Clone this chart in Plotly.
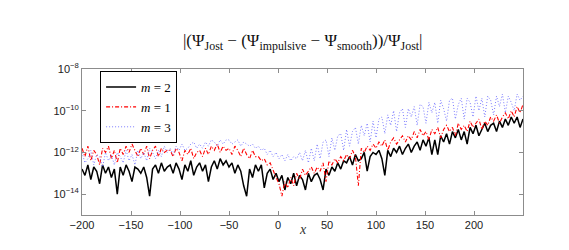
import plotly.graph_objects as go

# x grid (step 3) from -200 to 250
x_start, x_step, n_pts = -200, 3, 151
x_vals = [x_start + x_step * i for i in range(n_pts)]

# log10 of relative error
log_m2 = [
    -12.8, -13.1, -12.6, -13.3, -12.7, -12.9, -13.5, -12.6, -13.0, -12.7,
    -13.2, -12.8, -14.0, -12.7, -13.1, -12.6, -12.9, -13.4, -12.7, -12.8,
    -13.0, -12.7, -13.2, -14.1, -12.8, -12.6, -13.0, -12.5, -12.9, -12.7,
    -12.6, -13.0, -12.5, -12.8, -13.3, -12.6, -12.9, -12.4, -13.1, -12.7,
    -12.5, -12.9, -12.6, -13.4, -12.7, -12.4, -12.8, -12.3, -12.6, -12.4,
    -12.7, -12.5, -13.0, -12.6, -12.9, -13.6, -14.1, -12.8, -13.2, -12.6,
    -12.9, -12.6, -13.7, -13.0, -12.8, -13.3, -13.0, -13.4, -13.1, -13.8,
    -13.2, -13.5, -13.0, -13.6, -13.1, -13.3, -13.8, -13.0, -13.4, -13.1,
    -13.0, -13.3, -13.8, -12.8, -13.1, -12.7, -12.9, -12.5, -12.8, -12.4,
    -12.5, -12.2, -12.6, -12.1, -12.4, -12.3, -12.0, -12.9, -12.2, -12.0,
    -12.1, -11.9, -12.3, -13.1, -11.9, -12.2, -11.8, -12.0, -11.7, -12.1,
    -11.8, -11.6, -12.0, -11.7, -11.5, -11.9, -11.4, -11.7, -11.3, -12.1,
    -11.4, -12.1, -11.2, -11.5, -11.1, -11.6, -11.0, -11.3, -10.9, -11.4,
    -11.0, -11.6, -10.8, -11.1, -10.7, -11.2, -10.9, -10.6, -11.0, -10.7,
    -10.6, -11.0, -10.5, -10.8, -10.4, -10.7, -10.3, -10.6, -10.3, -10.8,
    -10.4,
]

log_m1 = [
    -11.8, -12.2, -11.7, -12.4, -11.9, -12.1, -12.6, -11.8, -12.0, -11.7,
    -12.3, -11.9, -12.5, -11.8, -12.1, -11.7, -12.0, -11.6, -11.9, -12.2,
    -11.8, -12.1, -11.7, -12.3, -11.9, -11.7, -12.2, -11.8, -12.0, -11.9,
    -11.9, -12.2, -11.8, -12.0, -12.4, -11.9, -12.1, -11.8, -12.3, -12.0,
    -11.9, -12.2, -11.8, -12.1, -11.7, -11.9, -11.6, -12.0, -11.7, -11.9,
    -11.8, -12.1, -11.7, -11.9, -12.2, -11.8, -12.1, -12.3, -11.9, -12.2,
    -12.2, -12.4, -12.3, -12.6, -12.5, -12.9, -13.2, -13.5, -14.1, -13.4,
    -13.7, -13.2, -13.6, -13.0, -13.3, -12.8, -13.1, -12.9, -12.7, -13.0,
    -12.7, -12.9, -12.5, -13.4, -12.4, -12.6, -12.3, -12.5, -12.2, -12.4,
    -12.1, -12.3, -11.9, -12.2, -13.6, -11.8, -12.0, -11.7, -11.9, -11.6,
    -11.8, -11.5, -11.7, -11.4, -11.9, -11.5, -11.3, -11.6, -11.4, -11.2,
    -11.5, -11.2, -11.4, -11.0, -11.3, -10.9, -11.2, -11.0, -11.4, -10.9,
    -11.1, -10.8, -11.3, -10.9, -10.7, -11.0, -10.8, -11.2, -10.6, -10.9,
    -10.7, -11.0, -10.5, -10.8, -10.6, -10.4, -10.9, -10.5, -10.7, -10.3,
    -10.5, -10.2, -10.6, -10.3, -10.1, -10.4, -10.0, -10.3, -9.8, -10.1,
    -9.7,
]

log_m3 = [
    -12.0, -12.5, -12.3, -11.9, -12.6, -12.1, -12.2, -12.7, -12.0, -12.4,
    -12.1, -12.6, -12.0, -12.2, -12.5, -11.9, -12.4, -12.1, -12.6, -11.9,
    -12.3, -12.0, -12.4, -11.8, -12.0, -12.3, -11.9, -12.2, -11.7, -12.0,
    -11.8, -12.1, -11.7, -11.9, -11.6, -11.9, -11.8, -11.6, -11.5, -11.8,
    -11.6, -11.8, -11.5, -11.7, -11.4, -11.5, -11.7, -11.4, -11.6, -11.4,
    -11.4, -11.6, -11.5, -11.4, -11.7, -11.5, -11.6, -11.7, -11.6, -11.8,
    -11.7, -11.9, -11.8, -12.1, -11.9, -12.2, -12.0, -12.3, -12.1, -12.4,
    -12.1, -12.4, -12.2, -12.3, -12.0, -12.4, -11.9, -12.5, -11.8, -12.4,
    -11.6, -12.3, -11.5, -11.4, -12.2, -11.3, -11.9, -11.2, -11.1, -11.9,
    -10.9, -11.7, -11.0, -10.8, -11.6, -10.7, -11.2, -10.6, -11.5, -10.5,
    -11.3, -10.4, -10.3, -11.1, -10.2, -10.7, -10.0, -11.0, -10.1, -9.9,
    -10.8, -9.9, -10.3, -9.8, -10.7, -9.7, -9.8, -10.6, -9.6, -10.1,
    -9.6, -10.6, -9.5, -9.9, -10.5, -9.5, -9.4, -10.4, -9.7, -9.4,
    -10.4, -9.4, -9.6, -10.3, -9.3, -10.0, -9.4, -10.3, -9.3, -9.5,
    -10.2, -9.3, -9.8, -9.2, -10.1, -9.3, -9.6, -10.0, -9.2, -9.5,
    -9.3,
]

x_ticks = [-200, -150, -100, -50, 0, 50, 100, 150, 200]
y_tick_exps = [-14, -12, -10, -8]

fig = go.Figure()
fig.add_trace(go.Scatter(
    x=x_vals, y=[10 ** v for v in log_m2], mode="lines", name="<i>m</i> = 2",
    line=dict(color="black", width=1.5), legendrank=1))
fig.add_trace(go.Scatter(
    x=x_vals, y=[10 ** v for v in log_m1], mode="lines", name="<i>m</i> = 1",
    line=dict(color="red", width=1.1, dash="4px,2px,1px,2px"), legendrank=2))
fig.add_trace(go.Scatter(
    x=x_vals, y=[10 ** v for v in log_m3], mode="lines", name="<i>m</i> = 3",
    line=dict(color="rgb(110,110,255)", width=0.9, dash="1px,2px"), legendrank=3))

axis_common = dict(
    showgrid=False, zeroline=False, showline=True, linecolor="#8c8c8c",
    linewidth=1, mirror="ticks", ticks="inside", ticklen=4, tickcolor="#8c8c8c",
    tickfont=dict(family="Liberation Sans, Arial, sans-serif", size=11, color="#222"),
)

fig.update_layout(
    width=569, height=250,
    margin=dict(l=74, r=54, t=61, b=43),
    paper_bgcolor="white", plot_bgcolor="white",
    title=dict(
        text="|(Ψ<sub>Jost</sub> − (Ψ<sub>impulsive</sub> − Ψ<sub>smooth</sub>))/Ψ<sub>Jost</sub>|",
        x=0.518, xanchor="center", y=0.87, yanchor="middle",
        font=dict(family="Liberation Serif, Times New Roman, serif", size=17, color="#111")),
    xaxis=dict(range=[-200, 250], tickvals=x_ticks, **axis_common),
    yaxis=dict(type="log", range=[-15, -8],
               tickvals=[10 ** e for e in y_tick_exps],
               ticktext=["10<sup>−%d</sup>" % (-e) for e in y_tick_exps],
               **axis_common),
    legend=dict(x=0.041, y=0.986, xanchor="left", yanchor="top",
                bgcolor="white", bordercolor="black", borderwidth=1,
                font=dict(family="Liberation Serif, Times New Roman, serif", size=13, color="black"),
                itemwidth=30, tracegroupgap=0),
    showlegend=True,
    annotations=[dict(text="<i>x</i>", xref="paper", yref="paper", x=0.5, y=-0.1,
                      xanchor="center", yanchor="middle", showarrow=False,
                      font=dict(family="Liberation Serif, serif", size=14, color="#333"))],
)

fig.write_html("out.html")
